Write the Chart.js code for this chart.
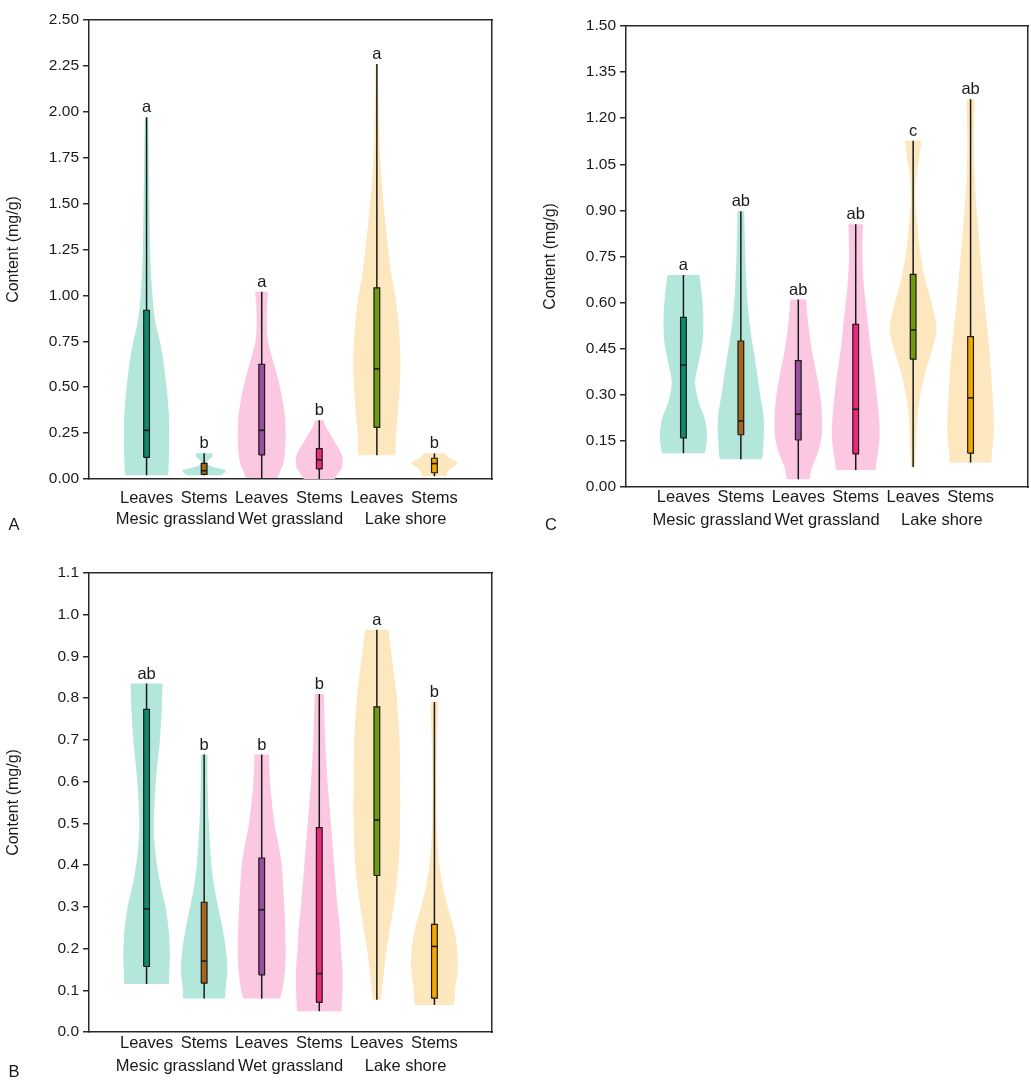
<!DOCTYPE html>
<html><head><meta charset="utf-8">
<script src="https://cdn.jsdelivr.net/npm/chart.js@4.4.1/dist/chart.umd.min.js"></script>
<style>
html,body{margin:0;padding:0;background:#fff;width:1031px;height:1080px;overflow:hidden;font-family:"Liberation Sans",Arial,sans-serif;}
canvas{position:absolute;display:block;}
.plab{position:absolute;font-size:16.5px;color:#1a1a1a;transform:translate(-50%,-50%);line-height:1;}
</style></head><body>
<canvas id="cA" width="500" height="540" style="left:0;top:0;width:500px;height:540px"></canvas>
<canvas id="cC" width="494" height="545" style="left:537px;top:0;width:494px;height:545px"></canvas>
<canvas id="cB" width="500" height="527" style="left:0;top:553px;width:500px;height:527px"></canvas>
<div class="plab" style="left:14px;top:524px">A</div>
<div class="plab" style="left:551px;top:524px">C</div>
<div class="plab" style="left:14px;top:1071px">B</div>
<script>
// ---------- shared categories ----------
const categories = ['Leaves','Stems','Leaves','Stems','Leaves','Stems'];
const groups = ['Mesic grassland','Wet grassland','Lake shore'];
const positions = [1,2,3,4,5,6];
const groupPositions = [1.5,3.5,5.5];

// ---------- Panel A ----------
const ticksA = [0,0.25,0.5,0.75,1,1.25,1.5,1.75,2,2.25,2.5];
const minA = [0.02,0.02,0.005,0.0,0.13,0.015];
const q1A  = [0.118,0.025,0.131,0.055,0.281,0.034];
const medA = [0.265,0.045,0.265,0.105,0.60,0.084];
const q3A  = [0.919,0.085,0.625,0.165,1.041,0.113];
const maxA = [1.97,0.14,1.02,0.32,2.26,0.14];
const lettersA = ['a','b','a','b','a','b'];
const violinYA = [
  [1.97,1.75,1.5,1.25,1.1,0.95,0.85,0.75,0.65,0.55,0.45,0.35,0.25,0.15,0.07,0.02],
  [0.14,0.13,0.115,0.10,0.085,0.07,0.055,0.045,0.035,0.02],
  [1.02,0.95,0.85,0.75,0.65,0.55,0.45,0.35,0.25,0.15,0.08,0.005],
  [0.32,0.28,0.24,0.2,0.16,0.12,0.09,0.06,0.03,0.0],
  [2.26,2.0,1.75,1.5,1.25,1.1,1.0,0.85,0.7,0.55,0.4,0.25,0.13],
  [0.14,0.12,0.10,0.085,0.07,0.05,0.03,0.015]
];
const violinWA = [
  [0.029,0.04,0.052,0.064,0.081,0.116,0.156,0.231,0.289,0.329,0.364,0.387,0.393,0.393,0.382,0.376],
  [0.14,0.15,0.12,0.06,0.05,0.12,0.3,0.38,0.36,0.3],
  [0.116,0.095,0.087,0.11,0.19,0.28,0.35,0.4,0.416,0.405,0.37,0.27],
  [0.075,0.12,0.2,0.27,0.35,0.4,0.405,0.39,0.33,0.27],
  [0.023,0.035,0.058,0.116,0.2,0.26,0.318,0.376,0.405,0.405,0.376,0.335,0.324],
  [0.185,0.231,0.347,0.405,0.335,0.26,0.22,0.208]
];

// ---------- Panel C ----------
const ticksC = [0,0.15,0.3,0.45,0.6,0.75,0.9,1.05,1.2,1.35,1.5];
const minC = [0.11,0.09,0.025,0.055,0.065,0.08];
const q1C  = [0.16,0.17,0.153,0.108,0.416,0.11];
const medC = [0.397,0.215,0.237,0.253,0.511,0.29];
const q3C  = [0.552,0.475,0.411,0.529,0.692,0.489];
const maxC = [0.69,0.897,0.61,0.855,1.127,1.262];
const lettersC = ['a','ab','ab','ab','c','ab'];
const violinYC = [
  [0.69,0.63,0.55,0.47,0.40,0.34,0.28,0.22,0.17,0.13,0.11],
  [0.897,0.8,0.7,0.6,0.5,0.4,0.3,0.25,0.2,0.15,0.1,0.09],
  [0.61,0.55,0.45,0.35,0.28,0.2,0.15,0.1,0.06,0.025],
  [0.855,0.75,0.65,0.55,0.45,0.35,0.25,0.18,0.12,0.08,0.055],
  [1.127,1.08,1.0,0.93,0.86,0.8,0.69,0.58,0.51,0.44,0.35,0.24,0.13,0.065],
  [1.262,1.1,0.95,0.85,0.75,0.6,0.5,0.4,0.3,0.2,0.15,0.1,0.08]
];
const violinWC = [
  [0.278,0.318,0.347,0.33,0.26,0.203,0.26,0.376,0.411,0.394,0.371],
  [0.058,0.07,0.087,0.116,0.174,0.26,0.336,0.382,0.405,0.394,0.376,0.36],
  [0.139,0.162,0.232,0.336,0.394,0.417,0.394,0.318,0.232,0.203],
  [0.127,0.116,0.145,0.203,0.26,0.336,0.394,0.417,0.394,0.359,0.347],
  [0.145,0.11,0.05,0.04,0.07,0.1,0.19,0.347,0.41,0.32,0.18,0.08,0.05,0.035],
  [0.07,0.058,0.087,0.127,0.174,0.243,0.301,0.347,0.382,0.405,0.394,0.365,0.37]
];

// ---------- Panel B ----------
const ticksB = [0,0.1,0.2,0.3,0.4,0.5,0.6,0.7,0.8,0.9,1.0,1.1];
const minB = [0.115,0.08,0.08,0.05,0.077,0.065];
const q1B  = [0.157,0.117,0.137,0.071,0.375,0.081];
const medB = [0.295,0.17,0.293,0.14,0.508,0.205];
const q3B  = [0.773,0.311,0.417,0.49,0.779,0.258];
const maxB = [0.835,0.665,0.665,0.81,0.964,0.791];
const lettersB = ['ab','b','b','b','a','b'];
const violinYB = [
  [0.835,0.78,0.7,0.62,0.55,0.48,0.42,0.36,0.3,0.24,0.18,0.14,0.115],
  [0.665,0.6,0.5,0.4,0.35,0.3,0.25,0.2,0.15,0.11,0.08],
  [0.665,0.6,0.5,0.45,0.4,0.3,0.2,0.15,0.1,0.08],
  [0.81,0.7,0.6,0.5,0.4,0.3,0.25,0.2,0.15,0.1,0.07,0.05],
  [0.964,0.9,0.8,0.7,0.6,0.5,0.4,0.3,0.2,0.12,0.077],
  [0.791,0.7,0.6,0.5,0.42,0.35,0.3,0.25,0.2,0.15,0.1,0.065]
];
const violinWB = [
  [0.277,0.266,0.231,0.173,0.139,0.127,0.162,0.231,0.329,0.387,0.404,0.393,0.387],
  [0.058,0.058,0.081,0.127,0.173,0.243,0.318,0.376,0.404,0.376,0.364],
  [0.127,0.144,0.22,0.289,0.347,0.393,0.416,0.404,0.358,0.318],
  [0.081,0.104,0.144,0.202,0.26,0.318,0.358,0.376,0.404,0.404,0.393,0.387],
  [0.202,0.26,0.347,0.393,0.404,0.404,0.376,0.289,0.173,0.104,0.069],
  [0.069,0.046,0.035,0.04,0.069,0.144,0.231,0.335,0.393,0.404,0.358,0.347]
];

// ---------- styles ----------
const violinColors = ['#b3e7dc','#b3e7dc','#fcc8e1','#fcc8e1','#fde7be','#fde7be'];
const boxColors = ['#10896c','#a5661c','#9a4f9e','#f0277d','#6d9b0c','#f7a800'];
const ink = '#1a1a1a';
const axisColor = '#2a2a2a';
const FONT = '"Liberation Sans", Arial, sans-serif';
const BOX_HW = 0.05;

function violinPoints(c, ys, ws) {
  const right = ys.map((y,i)=>({x:c+ws[i], y:y})).reverse();
  const left = ys.map((y,i)=>({x:c-ws[i], y:y}));
  return [right[0], ...right, right[right.length-1], left[0], ...left, left[left.length-1]];
}

const letterPlugin = {
  id: 'letters',
  afterDatasetsDraw(chart, args, opts) {
    const ctx = chart.ctx, xs = chart.scales.x, ys = chart.scales.y;
    ctx.save();
    ctx.font = '16.5px ' + FONT;
    ctx.fillStyle = ink;
    ctx.textAlign = 'center';
    ctx.textBaseline = 'alphabetic';
    opts.letters.forEach((t,i)=>{
      ctx.fillText(t, xs.getPixelForValue(positions[i]), ys.getPixelForValue(opts.tops[i]) - 5);
    });
    ctx.restore();
  }
};

function makeChart(p) {
  const datasets = [];
  positions.forEach((c,i)=>{
    datasets.push({data: violinPoints(c, p.vy[i], p.vw[i]), fill:'shape', backgroundColor: violinColors[i],
      borderColor:'rgba(0,0,0,0)', borderWidth:0, tension:0.3, pointRadius:0, order:4});
    datasets.push({data:[{x:c,y:p.min[i]},{x:c,y:p.max[i]}], fill:false, borderColor:ink, borderWidth:1.5,
      pointRadius:0, tension:0, order:3});
    datasets.push({data:[{x:c-BOX_HW,y:p.q1[i]},{x:c+BOX_HW,y:p.q1[i]},{x:c+BOX_HW,y:p.q3[i]},{x:c-BOX_HW,y:p.q3[i]},{x:c-BOX_HW,y:p.q1[i]}],
      fill:'shape', backgroundColor: boxColors[i], borderColor:ink, borderWidth:1.2, pointRadius:0, tension:0, order:2});
    datasets.push({data:[{x:c-BOX_HW,y:p.med[i]},{x:c+BOX_HW,y:p.med[i]}], fill:false, borderColor:ink, borderWidth:1.6,
      pointRadius:0, tension:0, order:1});
  });
  datasets.forEach(d=>{ d.xAxisID='x'; d.yAxisID='y'; d.pointHoverRadius=0; });
  const tickFont = {family: FONT, size: 16.5};
  const hidden = {display:false, drawTicks:false};
  return new Chart(document.getElementById(p.canvas), {
    type: 'line',
    data: {datasets},
    plugins: [letterPlugin],
    options: {
      responsive:false, animation:false, events:[],
      layout: {padding: p.pad},
      plugins: {legend:{display:false}, tooltip:{enabled:false}, letters:{letters:p.letters, tops:p.max}},
      scales: {
        x: {type:'linear', position:'bottom', weight:0, min:0, max:7,
          afterBuildTicks: s=>{ s.ticks = positions.map(v=>({value:v})); },
          ticks:{callback:(v,i)=>categories[i], font:tickFont, color:ink, padding:p.p1, autoSkip:false, maxRotation:0},
          grid: hidden, border:{display:true, color:axisColor, width:1.5},
          afterFit: s=>{ s.height = p.h1; }},
        xg: {type:'linear', position:'bottom', weight:1, min:0, max:7,
          afterBuildTicks: s=>{ s.ticks = groupPositions.map(v=>({value:v})); },
          ticks:{callback:(v,i)=>groups[i], font:tickFont, color:ink, padding:p.p2, autoSkip:false, maxRotation:0},
          grid: hidden, border:{display:false},
          afterFit: s=>{ s.height = p.h2; }},
        xt: {type:'linear', position:'top', min:0, max:7, ticks:{display:false}, grid: hidden,
          border:{display:true, color:axisColor, width:1.5}, afterFit: s=>{ s.height = 0; }},
        y: {type:'linear', position:'left', min:0, max:p.yMax,
          afterBuildTicks: s=>{ s.ticks = p.yTicks.map(v=>({value:v})); },
          ticks:{callback:(v)=>Number(v).toFixed(p.dec), font:{family:FONT, size:15.5}, color:ink, padding:4, autoSkip:false},
          grid:{display:true, drawOnChartArea:false, drawTicks:true, tickLength:6, color:axisColor, lineWidth:1.5},
          border:{display:true, color:axisColor, width:1.5},
          title:{display:true, text:'Content (mg/g)', font:{family:FONT, size:16}, color:ink, padding:{top:4,bottom:0}},
          afterFit: s=>{ s.width = 89; }},
        yr: {type:'linear', position:'right', min:0, max:p.yMax, ticks:{display:false}, grid: hidden,
          border:{display:true, color:axisColor, width:1.5}, afterFit: s=>{ s.width = 0; }}
      }
    }
  });
}

makeChart({canvas:'cA', yMax:2.5, yTicks:ticksA, dec:2, pad:{top:20,right:8,bottom:0,left:0}, h1:30, h2:31, p1:10, p2:1,
  min:minA, q1:q1A, med:medA, q3:q3A, max:maxA, vy:violinYA, vw:violinWA, letters:lettersA});
makeChart({canvas:'cC', yMax:1.5, yTicks:ticksC, dec:2, pad:{top:26,right:3,bottom:0,left:0}, h1:22, h2:36, p1:1, p2:2,
  min:minC, q1:q1C, med:medC, q3:q3C, max:maxC, vy:violinYC, vw:violinWC, letters:lettersC});
makeChart({canvas:'cB', yMax:1.1, yTicks:ticksB, dec:1, pad:{top:20,right:8,bottom:0,left:0}, h1:22, h2:26, p1:2, p2:3,
  min:minB, q1:q1B, med:medB, q3:q3B, max:maxB, vy:violinYB, vw:violinWB, letters:lettersB});
</script>
</body></html>
